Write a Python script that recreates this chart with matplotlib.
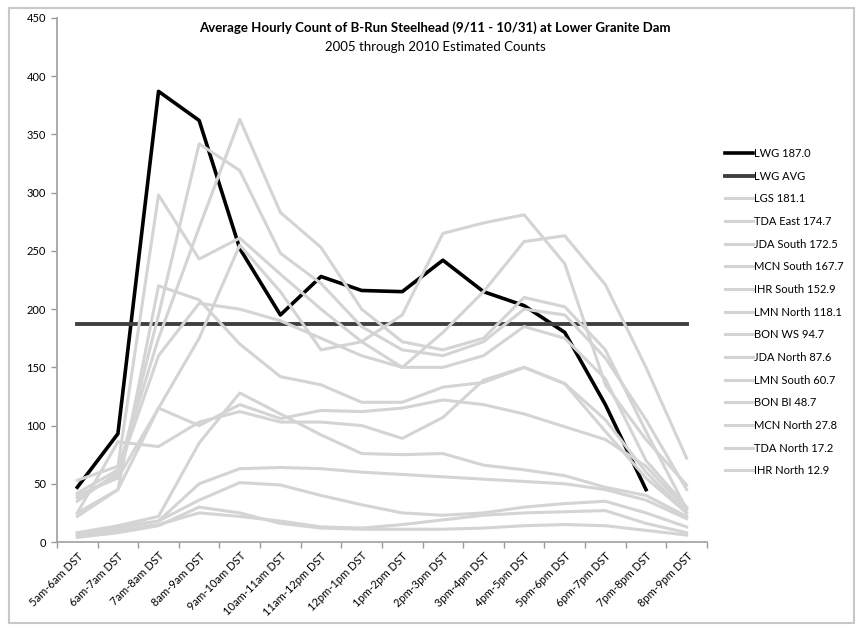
import numpy as np
import matplotlib
matplotlib.use("Agg")
import matplotlib.pyplot as plt
from matplotlib.patches import Rectangle

plt.rcParams['font.family'] = ['Lato', 'DejaVu Sans']

hours = ["5am-6am DST", "6am-7am DST", "7am-8am DST", "8am-9am DST", "9am-10am DST",
         "10am-11am DST", "11am-12pm DST", "12pm-1pm DST", "1pm-2pm DST", "2pm-3pm DST",
         "3pm-4pm DST", "4pm-5pm DST", "5pm-6pm DST", "6pm-7pm DST", "7pm-8pm DST", "8pm-9pm DST"]

# Lower Granite (no count for the last hour)
lwg = [47, 93, 387, 362, 252, 195, 228, 216, 215, 242, 215, 203, 180, 118, 45, np.nan]
lwg_avg = 187.0

# other dams
lgs = [42, 62, 175, 270, 363, 283, 253, 200, 172, 165, 175, 210, 202, 165, 95, 28]
tda_east = [38, 58, 195, 342, 319, 248, 222, 185, 165, 160, 172, 200, 195, 158, 105, 45]
jda_south = [40, 55, 115, 175, 255, 215, 165, 172, 195, 265, 274, 281, 239, 135, 88, 49]
mcn_south = [35, 60, 160, 205, 200, 190, 175, 160, 150, 180, 215, 258, 263, 221, 150, 72]
ihr_south = [53, 65, 298, 243, 261, 230, 200, 172, 150, 150, 160, 185, 175, 140, 70, 30]
lmn_north = [25, 45, 220, 208, 170, 142, 135, 120, 120, 133, 137, 150, 136, 105, 60, 25]
bon_ws = [25, 86, 82, 103, 112, 103, 103, 100, 89, 107, 139, 150, 136, 95, 55, 25]
jda_north = [22, 45, 115, 100, 118, 106, 113, 112, 115, 122, 118, 110, 99, 88, 65, 28]
lmn_south = [8, 14, 22, 85, 128, 110, 92, 76, 75, 76, 66, 62, 57, 47, 40, 22]
bon_bi = [7, 13, 18, 50, 63, 64, 63, 60, 58, 56, 54, 52, 50, 45, 36, 20]
mcn_north = [6, 12, 18, 36, 51, 49, 40, 32, 25, 23, 25, 30, 33, 35, 25, 13]
tda_north = [5, 10, 15, 25, 22, 18, 13, 12, 15, 19, 23, 25, 26, 27, 16, 8]
ihr_north = [4, 8, 14, 30, 25, 16, 12, 11, 11, 11, 12, 14, 15, 14, 10, 6]

other_labels = ["LGS 181.1", "TDA East 174.7", "JDA South 172.5", "MCN South 167.7",
                "IHR South 152.9", "LMN North 118.1", "BON WS 94.7", "JDA North 87.6",
                "LMN South 60.7", "BON BI 48.7", "MCN North 27.8", "TDA North 17.2",
                "IHR North 12.9"]
other_series = [lgs, tda_east, jda_south, mcn_south, ihr_south, lmn_north, bon_ws,
                jda_north, lmn_south, bon_bi, mcn_north, tda_north, ihr_north]

fig = plt.figure(figsize=(8.62, 6.31), dpi=100)
ax = fig.add_axes([0.0661, 0.141, 0.754, 0.8305])

x = np.arange(len(hours))
ax.plot(x, lwg, color="black", lw=2.6, label="LWG 187.0", zorder=2)
ax.plot(x, np.full(len(hours), lwg_avg), color="#404040", lw=2.8, label="LWG AVG", zorder=3)
for vals, name in zip(other_series, other_labels):
    ax.plot(x, vals, color="#d4d4d4", lw=2.2, label=name, zorder=4)

ax.set_xlim(-0.5, len(hours) - 0.5)
ax.set_ylim(0, 450)
ax.set_yticks(np.arange(0, 451, 50))
ax.set_xticks(x)
ax.set_xticklabels(hours, rotation=45, ha="right", rotation_mode="anchor", fontsize=8)
ax.set_xticks(np.arange(-0.5, len(hours)), minor=True)
ax.tick_params(axis="x", which="major", length=0, pad=6)
ax.tick_params(axis="x", which="minor", length=4, color="#9a9a9a", width=1)
ax.tick_params(axis="y", length=4, color="#9a9a9a", width=1, labelsize=8, pad=4)

for side in ["top", "right"]:
    ax.spines[side].set_visible(False)
for side in ["left", "bottom"]:
    ax.spines[side].set_color("#a6a6a6")
    ax.spines[side].set_linewidth(1.3)

fig.text(0.505, 0.956, "Average Hourly Count of B-Run Steelhead (9/11 - 10/31) at Lower Granite Dam",
         ha="center", va="center", fontsize=9.5, fontweight="bold")
fig.text(0.505, 0.925, "2005 through 2010 Estimated Counts", ha="center", va="center", fontsize=9.5)

ax.legend(loc="upper left", bbox_to_anchor=(725 / 862, 1 - 148 / 631),
          bbox_transform=fig.transFigure, frameon=False, fontsize=8,
          handlelength=2.5, handletextpad=0.1, labelspacing=1.05,
          borderpad=0, borderaxespad=0)

fig.patches.append(Rectangle((0.011, 0.013), 0.98, 0.975, transform=fig.transFigure,
                             fill=False, edgecolor="#c8c8c8", lw=1.5))

fig.savefig("out.png", dpi=100)
